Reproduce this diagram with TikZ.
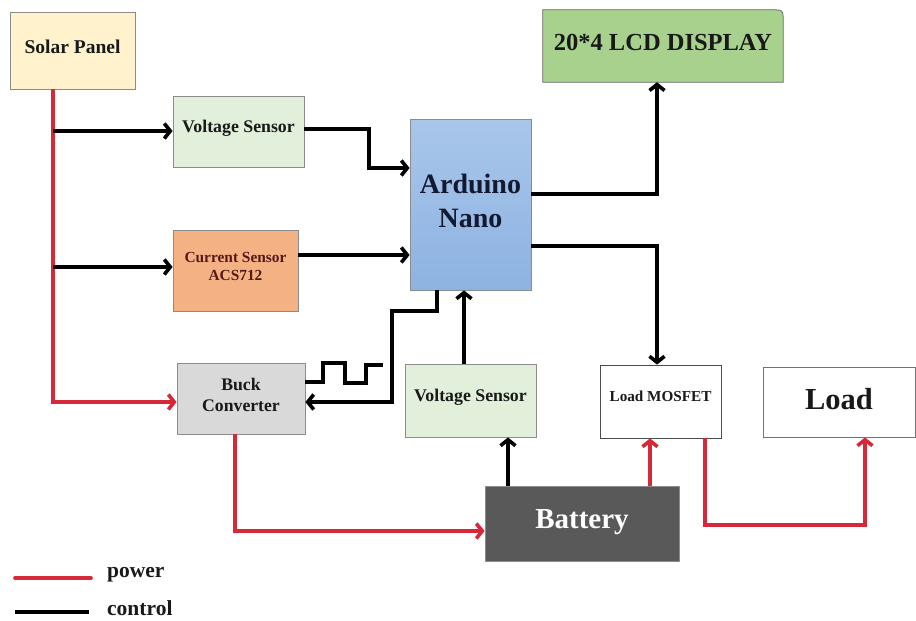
\documentclass[tikz,border=0pt]{standalone}
\usepackage{fontspec}
\setmainfont{Liberation Serif}
\usetikzlibrary{arrows.meta,calc}
\definecolor{pwrred}{RGB}{214,40,57}
\definecolor{boxgray}{RGB}{140,140,140}
\definecolor{solarfill}{RGB}{255,242,204}
\definecolor{vsfill}{RGB}{226,239,218}
\definecolor{csfill}{RGB}{244,177,131}
\definecolor{ardtop}{RGB}{168,198,234}
\definecolor{ardbot}{RGB}{141,179,226}
\definecolor{lcdfill}{RGB}{169,209,142}
\definecolor{buckfill}{RGB}{217,217,217}
\definecolor{batfill}{RGB}{89,89,89}
\definecolor{txt}{RGB}{25,25,25}
\definecolor{cstxt}{RGB}{85,25,25}
\definecolor{ardtxt}{RGB}{20,25,50}
\begin{document}
\begin{tikzpicture}[x=1pt,y=-1pt,
  box/.style={draw=boxgray, line width=0.8pt, inner sep=0pt},
  lbl/.style={inner sep=0pt, align=center, text=txt},
  ctl/.style={line width=3.6pt, draw=black, -{Straight Barb[length=6pt,width=15pt]}},
  pwr/.style={line width=3.6pt, draw=pwrred, -{Straight Barb[length=6pt,width=15pt]}},
  wave/.style={line width=3.4pt, draw=black}
]
\useasboundingbox (0,0) rectangle (916,621);

% LCD shape with one rounded corner
\node[inner sep=0pt, minimum width=240pt, minimum height=72pt] (lcd) at (663,46) {};
\fill[lcdfill] (lcd.south west) -- (lcd.north west) -- ([xshift=-12pt]lcd.north east) .. controls (lcd.north east) .. ([yshift=-12pt]lcd.north east) -- (lcd.south east) -- cycle;
\draw[black!60, line width=0.8pt] (lcd.south west) -- (lcd.north west) -- ([xshift=-12pt]lcd.north east) .. controls (lcd.north east) .. ([yshift=-12pt]lcd.north east) -- (lcd.south east) -- cycle;

% blocks
\node[box, fill=solarfill, minimum width=125pt, minimum height=77pt] (solar) at (72.5,50.5) {};
\node[box, fill=vsfill, minimum width=131pt, minimum height=71pt] (vs1) at (238.5,131.5) {};
\node[box, fill=csfill, minimum width=125pt, minimum height=81pt] (cs) at (235.5,270.5) {};
\node[box, top color=ardtop, bottom color=ardbot, minimum width=121pt, minimum height=171pt] (ard) at (470.5,204.5) {};
\node[box, fill=buckfill, minimum width=128pt, minimum height=71pt] (buck) at (241,398.5) {};
\node[box, fill=vsfill, minimum width=131pt, minimum height=73pt] (vs2) at (470.5,400.5) {};
\node[box, fill=white, draw=black!70, minimum width=121pt, minimum height=73pt] (mos) at (660.5,401.5) {};
\node[box, fill=white, draw=black!55, minimum width=152pt, minimum height=70pt] (load) at (839,402) {};
\node[box, fill=batfill, draw=black!45, minimum width=194pt, minimum height=75pt] (bat) at (582,523.5) {};

% labels
\node[lbl, font=\bfseries\fontsize{19.5}{23}\selectfont] (solart) at ($(solar)+(0,-4)$) {Solar Panel};
\node[lbl, font=\bfseries\fontsize{17.8}{21}\selectfont] (vs1t) at ($(vs1)+(0,-3)$) {Voltage Sensor};
\node[lbl, text=cstxt, font=\bfseries\fontsize{15.4}{18.5}\selectfont] (cst) at ($(cs)+(0,-4)$) {Current Sensor\\ACS712};
\node[lbl, text=ardtxt, font=\bfseries\fontsize{28}{34}\selectfont] (ardt) at ($(ard)+(0,-4)$) {Arduino\\Nano};
\node[lbl, font=\bfseries\fontsize{24.5}{29}\selectfont] (lcdt) at ($(lcd)+(0,-4)$) {20*4 LCD DISPLAY};
\node[lbl, font=\bfseries\fontsize{17.7}{21}\selectfont] (buckt) at ($(buck)+(0,-4)$) {Buck\\Converter};
\node[lbl, font=\bfseries\fontsize{17.8}{21}\selectfont] (vs2t) at ($(vs2)+(0,-3)$) {Voltage Sensor};
\node[lbl, font=\bfseries\fontsize{15.2}{18}\selectfont] (most) at ($(mos)+(0,-5)$) {Load MOSFET};
\node[lbl, font=\bfseries\fontsize{30.5}{36}\selectfont] (loadt) at ($(load)+(0,-3)$) {Load};
\node[lbl, text=white, font=\bfseries\fontsize{29}{34}\selectfont] (batt) at ($(bat)+(0,-1)$) {Battery};

% junction coordinates
\coordinate (sp) at (53,89);
\coordinate (j1) at (369,168);
\coordinate (j2) at (298,255);
\coordinate (j3) at (657,194);
\coordinate (j4) at (657,246);
\coordinate (j5) at (437,311);
\coordinate (j6) at (392,402);
\coordinate (j7) at (464,364);
\coordinate (j8) at (508,486);
\coordinate (j9) at (235,531);
\coordinate (j10) at (650,486);
\coordinate (j11) at (705,525);
\coordinate (j12) at (865,525);

% power lines
\draw[pwr] (sp |- solar.south) |- (buck.west |- 0,402);
\draw[pwr] (j9 |- buck.south) |- (j9 -| bat.west);
\draw[pwr] (j10 |- bat.north) -- (j10 |- mos.south);
\draw[pwr] (j11 |- mos.south) -- (j11) -- (j12) -- (j12 |- load.south);

% control lines
\draw[ctl] (sp |- 0,131) -- (vs1.west |- 0,131);
\draw[ctl] (sp |- 0,267) -- (cs.west |- 0,267);
\draw[ctl] (vs1.east |- 0,129) -| (j1) -- (j1 -| ard.west);
\draw[ctl] (j2) -- (j2 -| ard.west);
\draw[ctl] (j3 -| ard.east) -| (j3 |- lcd.south);
\draw[ctl] (j4 -| ard.east) -| (j4 |- mos.north);
\draw[ctl] (j5 |- ard.south) -- (j5) -- (j5 -| j6) -- (j6) -- (j6 -| buck.east);
\draw[ctl] (j7 |- vs2.north) -- (j7 |- ard.south);
\draw[ctl] (j8 |- bat.north) -- (j8 |- vs2.south);

% PWM waveform
\draw[wave] (buck.east |- 0,382) -- (323,382) -- (323,363) -- (345,363) -- (345,383) -- (366,383) -- (366,365) -- (383,365);

% legend
\node[inner sep=0pt, anchor=west, text=txt, font=\bfseries\fontsize{21.5}{25}\selectfont] (lgp) at (107,575) {power};
\node[inner sep=0pt, anchor=west, text=txt, font=\bfseries\fontsize{21.5}{25}\selectfont] (lgc) at (107,608) {control};
\coordinate (lp) at (15,578);
\coordinate (lc) at (15,612);
\draw[pwrred, line width=3.6pt, line cap=round] (lp) -- (lp -| 91,0);
\draw[black, line width=3.6pt] (lc) -- (lc -| 89,0);
\end{tikzpicture}
\end{document}
